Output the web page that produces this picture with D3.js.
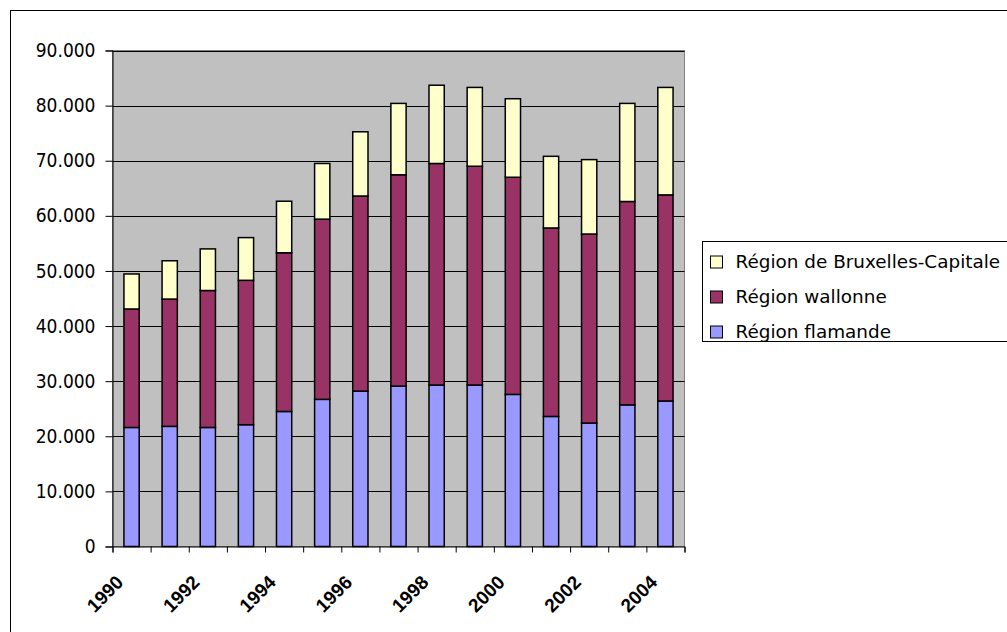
<!DOCTYPE html>
<html>
<head>
<meta charset="utf-8">
<script src="https://cdn.jsdelivr.net/npm/d3@7"></script>
<style>
  html, body { margin: 0; padding: 0; background: #fff; }
  svg { display: block; }
  .ylab { font-family: "DejaVu Sans Condensed", "DejaVu Sans", sans-serif; font-size: 19px; fill: #000; }
  .xlab { font-family: "Liberation Sans", Arial, sans-serif; font-weight: bold; font-size: 19px; fill: #000; }
  .leg  { font-family: "DejaVu Sans", sans-serif; font-size: 18.4px; fill: #000; }
</style>
</head>
<body>
<svg id="chart" width="1007" height="632"></svg>
<script>
// Years on the category axis
const years = [1990, 1991, 1992, 1993, 1994, 1995, 1996, 1997, 1998, 1999, 2000, 2001, 2002, 2003, 2004];

// Series values per region (stacked bottom to top)
const flamande  = [21600, 21800, 21600, 22100, 24500, 26700, 28200, 29100, 29300, 29300, 27600, 23600, 22400, 25700, 26400];
const wallonne  = [21500, 23100, 24850, 26200, 28800, 32700, 35400, 38350, 40200, 39700, 39400, 34200, 34300, 36900, 37400];
const bruxelles = [6350, 6950, 7550, 7750, 9350, 10100, 11650, 12950, 14200, 14300, 14250, 13000, 13500, 17800, 19500];

// Series names
const seriesNames = ["Région flamande", "Région wallonne", "Région de Bruxelles-Capitale"];
const seriesColors = ["#9999FF", "#993366", "#FFFFCC"];

// Value axis ticks and shown year labels
const yTicks = [0, 10000, 20000, 30000, 40000, 50000, 60000, 70000, 80000, 90000];
const xLabelYears = [1990, 1992, 1994, 1996, 1998, 2000, 2002, 2004];

const svg = d3.select("#chart");

// Outer chart frame
svg.append("rect")
  .attr("x", 10.5).attr("y", 10.5)
  .attr("width", 1100).attr("height", 700)
  .attr("fill", "#fff").attr("stroke", "#000").attr("stroke-width", 1);

const plot = { left: 112.5, right: 684.5, top: 50.5, bottom: 546.5 };

const x = d3.scaleBand().domain(years).range([plot.left, plot.right]).padding(0);
const y = d3.scaleLinear().domain([0, 90000]).range([plot.bottom, plot.top]);

// Plot area background
svg.append("rect")
  .attr("x", plot.left).attr("y", plot.top)
  .attr("width", plot.right - plot.left).attr("height", plot.bottom - plot.top)
  .attr("fill", "#C0C0C0").attr("stroke", "#808080").attr("stroke-width", 1);

// Horizontal gridlines
svg.append("g")
  .selectAll("line")
  .data(yTicks.filter(d => d > 0))
  .join("line")
  .attr("x1", plot.left).attr("x2", plot.right)
  .attr("y1", d => Math.round(y(d)) + 0.5).attr("y2", d => Math.round(y(d)) + 0.5)
  .attr("stroke", "#000").attr("stroke-width", 1);

// Stack the series
const rows = years.map((yr, i) => ({ year: yr, f: flamande[i], w: wallonne[i], b: bruxelles[i] }));
const stack = d3.stack().keys(["f", "w", "b"])(rows);

const barW = x.bandwidth() * 0.4;
const barOff = (x.bandwidth() - barW) / 2;

svg.append("g")
  .selectAll("g")
  .data(stack)
  .join("g")
  .attr("fill", (d, i) => seriesColors[i])
  .selectAll("rect")
  .data(d => d)
  .join("rect")
  .attr("x", d => x(d.data.year) + barOff)
  .attr("width", barW)
  .attr("y", d => y(d[1]))
  .attr("height", d => y(d[0]) - y(d[1]))
  .attr("stroke", "#000").attr("stroke-width", 1.5);

// Value axis
const fmt = d3.formatLocale({ decimal: ",", thousands: ".", grouping: [3], currency: ["", " €"] }).format(",d");
const yAxis = d3.axisLeft(y).tickValues(yTicks).tickFormat(fmt).tickSize(7).tickPadding(10);
const gy = svg.append("g").attr("transform", `translate(${plot.left},0)`).call(yAxis);
gy.select(".domain").attr("stroke", "#000");
gy.selectAll(".tick line").attr("stroke", "#000");
gy.selectAll(".tick text").attr("class", "ylab").attr("font-family", null).attr("font-size", null);
gy.attr("font-family", null).attr("font-size", null);

// Category axis with ticks between categories
const xAxisScale = d3.scaleLinear().domain([0, years.length]).range([plot.left, plot.right]);
const gx = svg.append("g").attr("transform", `translate(0,${plot.bottom})`)
  .call(d3.axisBottom(xAxisScale).tickValues(d3.range(years.length + 1)).tickSize(6).tickFormat(""));
gx.select(".domain").attr("stroke", "#000");
gx.selectAll(".tick line").attr("stroke", "#000");

// Rotated year labels
svg.append("g")
  .selectAll("text")
  .data(xLabelYears)
  .join("text")
  .attr("class", "xlab")
  .attr("text-anchor", "end")
  .attr("transform", d => `translate(${x(d) + x.bandwidth() / 2 - 7},${plot.bottom + 37}) rotate(-45)`)
  .text(d => d);

// Legend
const legend = svg.append("g").attr("transform", "translate(702.5,241.5)");
legend.append("rect")
  .attr("width", 400).attr("height", 100)
  .attr("fill", "#fff").attr("stroke", "#000").attr("stroke-width", 1);

const legItems = [2, 1, 0];
const li = legend.selectAll("g.item")
  .data(legItems)
  .join("g")
  .attr("class", "item")
  .attr("transform", (d, i) => `translate(0,${20.5 + i * 35})`);
li.append("rect")
  .attr("x", 8).attr("y", -6).attr("width", 12).attr("height", 12)
  .attr("fill", d => seriesColors[d]).attr("stroke", "#000").attr("stroke-width", 1);
li.append("text")
  .attr("class", "leg")
  .attr("x", 33).attr("y", 0).attr("dy", "0.35em")
  .text(d => seriesNames[d]);
</script>
</body>
</html>
